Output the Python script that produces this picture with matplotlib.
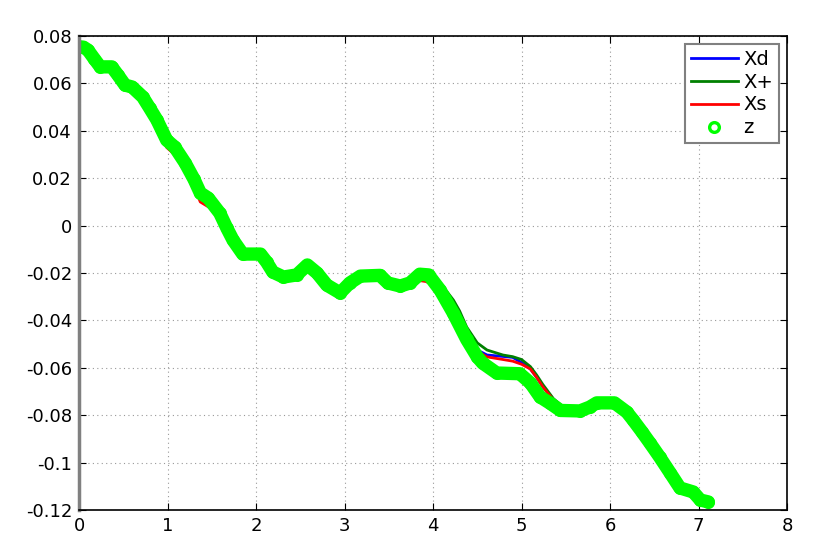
import matplotlib
matplotlib.use("Agg")
import matplotlib.pyplot as plt

# measured trajectory z (green circles)
t_z = [0.00, 0.05, 0.10, 0.17, 0.24, 0.37, 0.44, 0.52, 0.60, 0.72, 0.80, 0.88,
       0.99, 1.08, 1.20, 1.30, 1.37, 1.46, 1.59, 1.67, 1.74, 1.85, 2.05, 2.12,
       2.19, 2.31, 2.46, 2.58, 2.69, 2.80, 2.95, 3.06, 3.18, 3.40, 3.49, 3.63,
       3.74, 3.85, 3.95, 4.08, 4.23, 4.38, 4.50, 4.56, 4.72, 4.98, 5.10, 5.21,
       5.32, 5.44, 5.66, 5.77, 5.85, 6.05, 6.19, 6.26, 6.36, 6.45, 6.56, 6.68,
       6.79, 6.94, 7.02, 7.11]
z = [0.0755, 0.0753, 0.0741, 0.0705, 0.0670, 0.0670, 0.0635, 0.0593, 0.0585,
     0.0543, 0.0495, 0.0446, 0.0361, 0.0332, 0.0264, 0.0195, 0.0138, 0.0116,
     0.0053, -0.0010, -0.0061, -0.0120, -0.0120, -0.0154, -0.0196, -0.0217,
     -0.0208, -0.0166, -0.0200, -0.0251, -0.0284, -0.0242, -0.0213, -0.0210,
     -0.0242, -0.0255, -0.0242, -0.0205, -0.0208, -0.0272, -0.0370, -0.0480,
     -0.0554, -0.0580, -0.0622, -0.0625, -0.0664, -0.0723, -0.0749, -0.0780,
     -0.0782, -0.0766, -0.0748, -0.0748, -0.0787, -0.0820, -0.0870, -0.0917,
     -0.0976, -0.1044, -0.1107, -0.1124, -0.1158, -0.1166]

# estimates Xd, X+, Xs
t_x = [0.00, 0.10, 0.24, 0.37, 0.52, 0.72, 0.88, 0.99, 1.20, 1.37, 1.59, 1.74,
       1.85, 2.05, 2.19, 2.31, 2.46, 2.58, 2.69, 2.80, 2.95, 3.06, 3.18, 3.40,
       3.50, 3.63, 3.74, 3.85, 3.92, 4.00, 4.08, 4.16, 4.23, 4.30, 4.38, 4.50,
       4.61, 4.79, 4.90, 5.00, 5.10, 5.17, 5.24, 5.36, 5.47, 5.56, 5.66, 5.74,
       5.85, 6.05, 6.19, 6.36, 6.56, 6.79, 6.94, 7.02, 7.11]
xd = [0.0755, 0.0741, 0.0668, 0.0660, 0.0593, 0.0543, 0.0446, 0.0361, 0.0264,
      0.0138, 0.0053, -0.0061, -0.0118, -0.0122, -0.0196, -0.0215, -0.0208,
      -0.0170, -0.0200, -0.0251, -0.0282, -0.0242, -0.0215, -0.0212, -0.0245,
      -0.0268, -0.0255, -0.0215, -0.0205, -0.0225, -0.0260, -0.0300, -0.0340,
      -0.0390, -0.0445, -0.0525, -0.0546, -0.0552, -0.0556, -0.0578, -0.0605,
      -0.0640, -0.0680, -0.0736, -0.0768, -0.0775, -0.0772, -0.0758, -0.0748,
      -0.0750, -0.0787, -0.0870, -0.0976, -0.1105, -0.1124, -0.1155, -0.1165]
xp = [0.0755, 0.0741, 0.0668, 0.0660, 0.0593, 0.0543, 0.0446, 0.0361, 0.0264,
      0.0138, 0.0053, -0.0061, -0.0118, -0.0122, -0.0196, -0.0215, -0.0208,
      -0.0170, -0.0200, -0.0251, -0.0282, -0.0242, -0.0215, -0.0212, -0.0245,
      -0.0262, -0.0250, -0.0205, -0.0195, -0.0215, -0.0245, -0.0280, -0.0314,
      -0.0360, -0.0428, -0.0495, -0.0525, -0.0546, -0.0553, -0.0565, -0.0595,
      -0.0630, -0.0670, -0.0730, -0.0765, -0.0775, -0.0775, -0.0765, -0.0748,
      -0.0750, -0.0787, -0.0870, -0.0976, -0.1105, -0.1124, -0.1155, -0.1165]
xs = [0.0755, 0.0738, 0.0660, 0.0648, 0.0575, 0.0540, 0.0440, 0.0330, 0.0260,
      0.0100, 0.0050, -0.0063, -0.0120, -0.0124, -0.0198, -0.0218, -0.0210,
      -0.0172, -0.0202, -0.0253, -0.0284, -0.0244, -0.0217, -0.0214, -0.0250,
      -0.0275, -0.0260, -0.0232, -0.0236, -0.0250, -0.0275, -0.0310, -0.0350,
      -0.0400, -0.0450, -0.0530, -0.0554, -0.0565, -0.0572, -0.0585, -0.0605,
      -0.0640, -0.0680, -0.0736, -0.0770, -0.0778, -0.0778, -0.0768, -0.0750,
      -0.0752, -0.0789, -0.0872, -0.0978, -0.1107, -0.1126, -0.1157, -0.1167]

x_ticks = [0, 1, 2, 3, 4, 5, 6, 7, 8]
y_ticks = [-0.12, -0.1, -0.08, -0.06, -0.04, -0.02, 0, 0.02, 0.04, 0.06, 0.08]
y_labels = ["-0.12", "-0.1", "-0.08", "-0.06", "-0.04", "-0.02", "0",
            "0.02", "0.04", "0.06", "0.08"]

plt.rcParams["font.family"] = ["DejaVu Sans"]
plt.rcParams["font.size"] = 13

fig = plt.figure(figsize=(8.31, 5.53), dpi=100)
ax = fig.add_axes([0.0951, 0.0778, 0.852, 0.857])

ax.plot(t_x, xd, color=(0, 0, 1), lw=2, label="Xd")
ax.plot(t_x, xp, color=(0, 0.5, 0), lw=2, label="X+")
ax.plot(t_x, xs, color=(1, 0, 0), lw=2, label="Xs")
# dense circle markers overlap into a solid band
ax.plot(t_z, z, color=(0, 1, 0), lw=9.6, solid_capstyle="round",
        solid_joinstyle="round", label="_nolegend_")
ax.plot(t_z, z, "o", color=(0, 1, 0), ms=7, mew=2.4, mfc="none", label="z")

ax.set_xlim(0, 8)
ax.set_ylim(-0.12, 0.08)
ax.set_xticks(x_ticks)
ax.set_yticks(y_ticks)
ax.set_yticklabels(y_labels)
ax.tick_params(direction="in", top=True, right=True, length=5, pad=5)
ax.grid(True, color="#999999", linestyle=(0, (1, 3)), lw=0.8)

for side in ["top", "right", "bottom"]:
    ax.spines[side].set_linewidth(1.2)
ax.spines["left"].set_color("#808080")
ax.spines["left"].set_linewidth(2.5)

leg = ax.legend(loc="upper right", fancybox=False, framealpha=1, fontsize=14,
                edgecolor="#808080", handlelength=2.4, handletextpad=0.3,
                labelspacing=0.2, borderaxespad=0.4, borderpad=0.3)
leg.get_frame().set_linewidth(1.5)

fig.savefig("out.png", dpi=100)
